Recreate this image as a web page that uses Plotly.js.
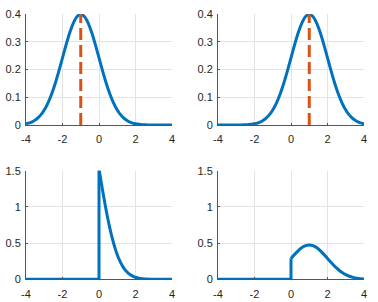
<!DOCTYPE html>
<html><head><meta charset="utf-8">
<script src="https://cdn.plot.ly/plotly-3.0.1.min.js"></script>
<style>body{margin:0}#c{width:378px;height:302px}</style>
</head><body><div id="c"></div>
<script>
// Top row: x grid -4..4 step 0.2
const xTop = [-4,-3.8,-3.6,-3.4,-3.2,-3,-2.8,-2.6,-2.4,-2.2,-2,-1.8,-1.6,-1.4,-1.2,-1,-0.8,-0.6,-0.4,-0.2,0,0.2,0.4,0.6,0.8,1,1.2,1.4,1.6,1.8,2,2.2,2.4,2.6,2.8,3,3.2,3.4,3.6,3.8,4];
const yTopLeft = [0.0044,0.0079,0.0136,0.0224,0.0355,0.0540,0.0790,0.1109,0.1497,0.1942,0.2420,0.2897,0.3332,0.3683,0.3910,0.3989,0.3910,0.3683,0.3332,0.2897,0.2420,0.1942,0.1497,0.1109,0.0790,0.0540,0.0355,0.0224,0.0136,0.0079,0.0044,0.0024,0.0012,0.0006,0.0003,0.0001,0,0,0,0,0];
const yTopRight = [0,0,0,0,0,0.0001,0.0003,0.0006,0.0012,0.0024,0.0044,0.0079,0.0136,0.0224,0.0355,0.0540,0.0790,0.1109,0.1497,0.1942,0.2420,0.2897,0.3332,0.3683,0.3910,0.3989,0.3910,0.3683,0.3332,0.2897,0.2420,0.1942,0.1497,0.1109,0.0790,0.0540,0.0355,0.0224,0.0136,0.0079,0.0044];
const meanLeft = [-1,-1];
const meanRight = [1,1];
const meanY = [0,0.3989];
// Bottom-left
const xBL = [-4,0,0,0.1,0.2,0.3,0.4,0.5,0.6,0.7,0.8,0.9,1,1.1,1.2,1.3,1.4,1.5,1.6,1.7,1.8,1.9,2,2.2,2.4,2.6,2.8,3,3.5,4];
const yBL = [0,0,1.525,1.373,1.224,1.080,0.943,0.816,0.699,0.592,0.498,0.413,0.340,0.277,0.224,0.178,0.141,0.110,0.086,0.066,0.050,0.038,0.028,0.015,0.008,0.004,0.002,0.001,0,0];
// Bottom-right
const xBR = [-4,0,0,0.2,0.4,0.6,0.8,1,1.2,1.4,1.6,1.8,2,2.2,2.4,2.6,2.8,3,3.2,3.4,3.6,3.8,4];
const yBR = [0,0,0.288,0.344,0.396,0.438,0.465,0.474,0.465,0.438,0.396,0.344,0.288,0.231,0.178,0.132,0.094,0.064,0.042,0.027,0.016,0.009,0.005];
// Tick labels
const xTickVals = [-4,-2,0,2,4];
const xTickText = ['-4','-2','0','2','4'];
const yTopTickVals = [0,0.1,0.2,0.3,0.4];
const yTopTickText = ['0','0.1','0.2','0.3','0.4'];
const yBotTickVals = [0,0.5,1,1.5];
const yBotTickText = ['0','0.5','1','1.5'];

const blue = '#0072BD', red = '#D95319';
const sline = {color: blue, width: 3, shape: 'spline', smoothing: 0.8};
const lline = {color: blue, width: 3};
const dashLine = {color: red, width: 3, dash: '12px,5px'};
const traces = [
  {x: xTop, y: yTopLeft, xaxis:'x', yaxis:'y', mode:'lines', line: sline},
  {x: meanLeft, y: meanY, xaxis:'x', yaxis:'y', mode:'lines', line: dashLine},
  {x: xTop, y: yTopRight, xaxis:'x2', yaxis:'y2', mode:'lines', line: sline},
  {x: meanRight, y: meanY, xaxis:'x2', yaxis:'y2', mode:'lines', line: dashLine},
  {x: xBL.slice(0,3), y: yBL.slice(0,3), xaxis:'x3', yaxis:'y3', mode:'lines', line: lline},
  {x: xBL.slice(2), y: yBL.slice(2), xaxis:'x3', yaxis:'y3', mode:'lines', line: sline},
  {x: xBR.slice(0,3), y: yBR.slice(0,3), xaxis:'x4', yaxis:'y4', mode:'lines', line: lline},
  {x: xBR.slice(2), y: yBR.slice(2), xaxis:'x4', yaxis:'y4', mode:'lines', line: sline}
];
const W=378, H=302;
const font = {family:'Liberation Sans, Arial, sans-serif', size:11, color:'#262626'};
function common(){
  return {showgrid:true, gridcolor:'#e3e3e3', gridwidth:1, zeroline:false, showline:true, linecolor:'#555', linewidth:1,
    ticks:'inside', ticklen:2, tickcolor:'#555', tickfont:font, fixedrange:true, tickmode:'array'};
}
function xa(l, r, anchor){
  return Object.assign(common(), {domain:[l/W, r/W], anchor, range:[-4,4], tickvals:xTickVals, ticktext:xTickText, ticklabelstandoff:4});
}
function ya(t, b, anchor, maxv, tv, tt){
  return Object.assign(common(), {domain:[(H-b)/H, (H-t)/H], anchor, range:[0,maxv], tickvals:tv, ticktext:tt, ticklabelstandoff:2});
}
const layout = {
  width: W, height: H, margin:{l:0,r:0,t:0,b:0}, showlegend:false,
  paper_bgcolor:'#fff', plot_bgcolor:'#fff',
  xaxis: xa(26,172,'y'), yaxis: ya(14,125,'x',0.4,yTopTickVals,yTopTickText),
  xaxis2: xa(218,364,'y2'), yaxis2: ya(14,125,'x2',0.4,yTopTickVals,yTopTickText),
  xaxis3: xa(26,172,'y3'), yaxis3: ya(170.7,279.3,'x3',1.5,yBotTickVals,yBotTickText),
  xaxis4: xa(218,364,'y4'), yaxis4: ya(170.7,279.3,'x4',1.5,yBotTickVals,yBotTickText)
};
Plotly.newPlot('c', traces, layout, {staticPlot:true, displayModeBar:false});
</script></body></html>
